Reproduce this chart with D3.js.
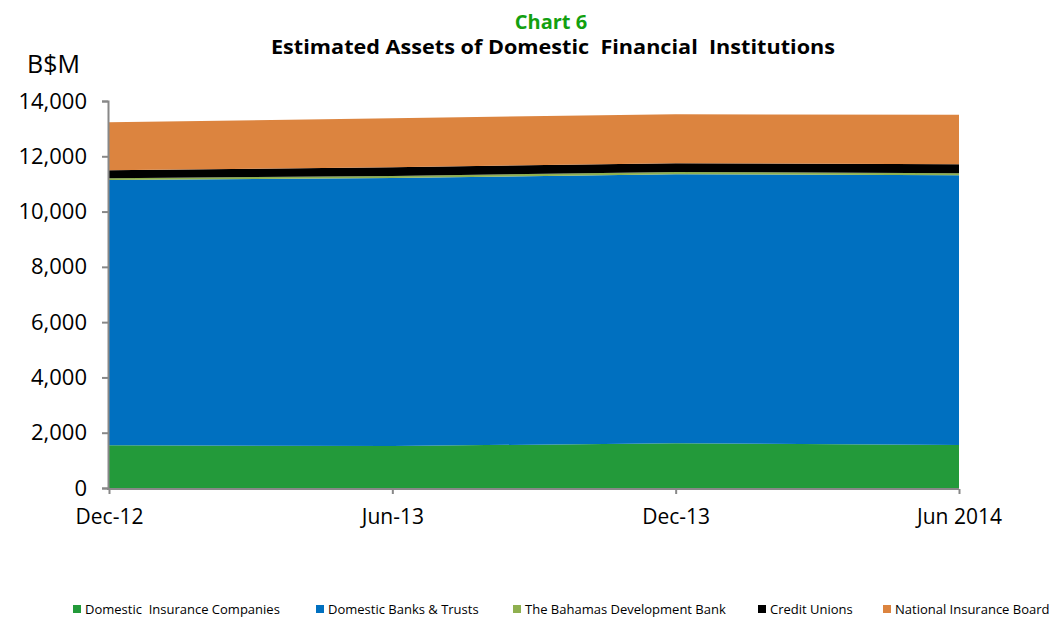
<!DOCTYPE html>
<html><head><meta charset="utf-8">
<script src="https://cdn.jsdelivr.net/npm/d3@7"></script>
<style>body{margin:0;background:#fff}svg{display:block}</style>
</head><body>
<svg id="c" width="1054" height="617"></svg>
<script>
const categories = ["Dec-12", "Jun-13", "Dec-13", "Jun 2014"];
const insurance = [1545, 1520, 1617, 1556];
const banks = [9597, 9696, 9733, 9758];
const devBank = [63, 72, 83, 72];
const creditUnions = [289, 315, 315, 326];
const nib = [1735, 1773, 1773, 1788];
const yTicks = [0, 2000, 4000, 6000, 8000, 10000, 12000, 14000];
const seriesNames = ["Domestic  Insurance Companies", "Domestic Banks & Trusts", "The Bahamas Development Bank", "Credit Unions", "National Insurance Board"];
const colors = ["#239a3a", "#0070c0", "#8fb04f", "#000000", "#dc843f"];

const svg = d3.select("#c");
const L = 109, R = 959, T = 101, B = 488;
const x = d3.scalePoint().domain(categories).range([L, R]);
const y = d3.scaleLinear().domain([0, 14000]).range([B, T]);

const keys = ["ins", "bank", "bdb", "cu", "nib"];
const rows = categories.map((c, i) => ({cat: c, ins: insurance[i], bank: banks[i], bdb: devBank[i], cu: creditUnions[i], nib: nib[i]}));
const stack = d3.stack().keys(keys)(rows);
const area = d3.area().x(d => x(d.data.cat)).y0(d => y(d[0])).y1(d => y(d[1]));
svg.append("g").selectAll("path").data(stack).join("path")
  .attr("d", area).attr("fill", (d, i) => colors[i]);

// y axis
const ya = svg.append("g").attr("transform", `translate(${L - 1},0)`)
  .call(d3.axisLeft(y).tickValues(yTicks).tickFormat(d3.format(",")).tickSize(6).tickPadding(15));
ya.select(".domain").attr("stroke", "#888").attr("stroke-width", 2);
ya.selectAll(".tick line").attr("stroke", "#888").attr("stroke-width", 2);
ya.selectAll("text").attr("font-family", "Open Sans").attr("font-size", 22).attr("fill", "#000");

// x axis
const xa = svg.append("g").attr("transform", `translate(0,${B + 1})`)
  .call(d3.axisBottom(x).tickSize(5).tickPadding(15));
xa.select(".domain").attr("stroke", "#888").attr("stroke-width", 2).attr("d", `M${L - 2},0H${R}`);
xa.selectAll(".tick line").attr("stroke", "#888").attr("stroke-width", 2);
xa.selectAll("text").attr("font-family", "Open Sans").attr("font-size", 21).attr("fill", "#000");

// titles
svg.append("text").attr("x", 551).attr("y", 29).attr("text-anchor", "middle")
  .attr("font-family", "Open Sans").attr("font-weight", "bold").attr("font-size", 20)
  .attr("fill", "#13a010").text("Chart 6");
svg.append("text").attr("x", 553).attr("y", 54).attr("text-anchor", "middle")
  .attr("font-family", "Open Sans").attr("font-weight", "bold").attr("font-size", 19)
  .attr("textLength", 564).attr("lengthAdjust", "spacingAndGlyphs")
  .attr("fill", "#000").attr("xml:space", "preserve")
  .text("Estimated Assets of Domestic  Financial  Institutions");
svg.append("text").attr("x", 27).attr("y", 73)
  .attr("font-family", "Open Sans").attr("font-size", 25).attr("fill", "#000").text("B$M");

// legend
const legX = [73, 316, 513, 758, 883];
const lg = svg.append("g").selectAll("g").data(seriesNames).join("g")
  .attr("transform", (d, i) => `translate(${legX[i]},605)`);
lg.append("rect").attr("width", 8).attr("height", 8).attr("fill", (d, i) => colors[i]);
lg.append("text").attr("x", 12).attr("y", 8.5).attr("font-family", "Open Sans").attr("font-size", 13)
  .attr("xml:space", "preserve").attr("fill", "#000").text(d => d);
</script>
</body></html>
